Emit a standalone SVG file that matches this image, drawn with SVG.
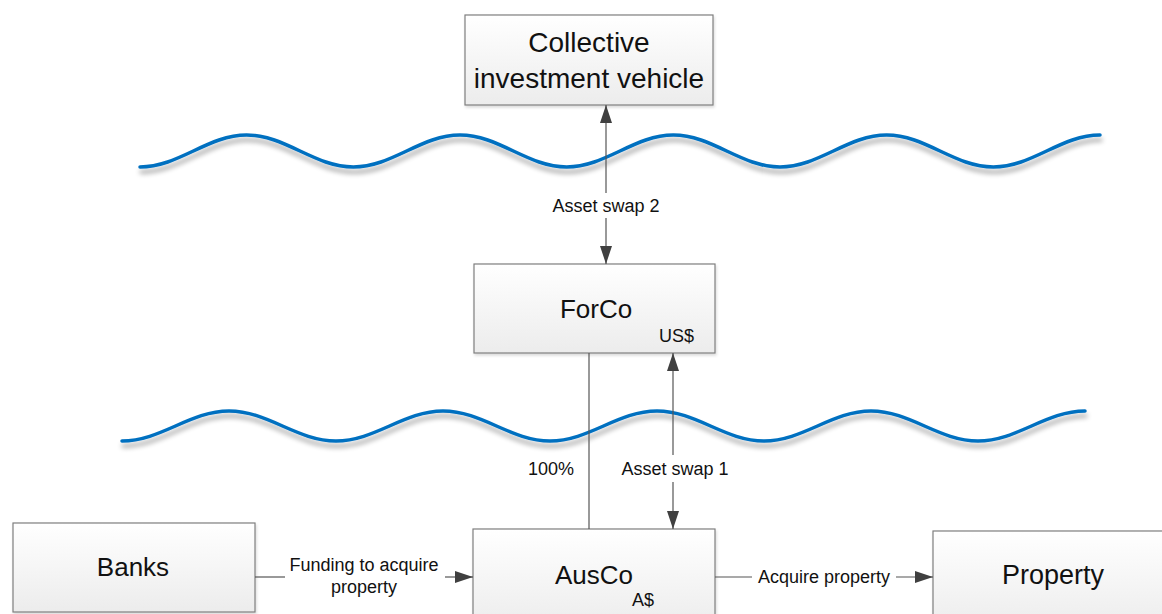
<svg xmlns="http://www.w3.org/2000/svg" width="1162" height="614" viewBox="0 0 1162 614">
<defs>
<linearGradient id="boxfill" x1="0" y1="0" x2="0" y2="1">
<stop offset="0" stop-color="#ffffff"/>
<stop offset="1" stop-color="#ececec"/>
</linearGradient>
<filter id="waveshadow" x="-5%" y="-50%" width="110%" height="250%">
<feGaussianBlur in="SourceAlpha" stdDeviation="2.5"/>
<feOffset dx="1" dy="5" result="b"/>
<feComponentTransfer><feFuncA type="linear" slope="0.35"/></feComponentTransfer>
<feMerge><feMergeNode/><feMergeNode in="SourceGraphic"/></feMerge>
</filter>
<filter id="boxshadow" x="-5%" y="-5%" width="115%" height="120%">
<feGaussianBlur in="SourceAlpha" stdDeviation="1.5"/>
<feOffset dx="1" dy="2"/>
<feComponentTransfer><feFuncA type="linear" slope="0.15"/></feComponentTransfer>
<feMerge><feMergeNode/><feMergeNode in="SourceGraphic"/></feMerge>
</filter>
<marker id="arr" viewBox="0 0 18 12" refX="18" refY="6" markerWidth="18" markerHeight="12" markerUnits="userSpaceOnUse" orient="auto-start-reverse">
<path d="M0,0 L18,6 L0,12 Z" fill="#404040"/>
</marker>
</defs>
<style>
.box{fill:url(#boxfill);stroke:#7f7f7f;stroke-width:1.2;filter:url(#boxshadow)}
.big{font-family:"Liberation Sans",Arial,sans-serif;font-size:26px;fill:#111;text-anchor:middle}
.small{font-family:"Liberation Sans",Arial,sans-serif;font-size:18px;fill:#111;text-anchor:middle}
.cur{font-family:"Liberation Sans",Arial,sans-serif;font-size:18px;fill:#111}
.conn{stroke:#555;stroke-width:1.2;fill:none}
.wave{stroke:#0070C0;stroke-width:3.5;fill:none;stroke-linecap:round;filter:url(#waveshadow)}
</style>

<g id="waves">
<path class="wave" d="M140,167 C178.85,167 207.82,135 246.67,135 S314.48,167 353.33,167 S421.15,135 460,135 S527.82,167 566.67,167 S634.48,135 673.33,135 S741.15,167 780,167 S847.82,135 886.67,135 S954.48,167 993.33,167 S1061.15,135 1100,135"/>
<path class="wave" d="M122,441 C160.97,441 190.03,411 229,411 S297.03,441 336,441 S404.03,411 443,411 S511.03,441 550,441 S618.03,411 657,411 S725.03,441 764,441 S832.03,411 871,411 S939.03,441 978,441 S1046.03,411 1085,411"/>
</g>

<g id="civ">
<rect class="box" x="465" y="15" width="248" height="90"/>
<text class="big" x="589" y="52" style="font-size:28px">Collective</text>
<text class="big" x="589" y="88" style="font-size:28px">investment vehicle</text>
</g>

<g id="forco">
<rect class="box" x="474" y="264" width="241" height="89"/>
<text class="big" x="596" y="318">ForCo</text>
<text class="cur" x="659" y="342">US$</text>
</g>

<g id="banks">
<rect class="box" x="13" y="523" width="242" height="89"/>
<text class="big" x="133" y="576">Banks</text>
</g>

<g id="ausco">
<rect class="box" x="473" y="529" width="242" height="100"/>
<text class="big" x="594" y="584">AusCo</text>
<text class="cur" x="632" y="606">A$</text>
</g>

<g id="property">
<rect class="box" x="933" y="531" width="250" height="100"/>
<text class="big" x="1053" y="584" style="font-size:27px">Property</text>
</g>

<g id="connectors">
<line class="conn" x1="606" y1="193" x2="606" y2="105" marker-end="url(#arr)"/>
<line class="conn" x1="606" y1="218" x2="606" y2="264" marker-end="url(#arr)"/>
<text class="small" x="606" y="212">Asset swap 2</text>

<line class="conn" x1="589" y1="353" x2="589" y2="529"/>
<text class="small" x="551" y="475">100%</text>

<line class="conn" x1="673" y1="455" x2="673" y2="353" marker-end="url(#arr)"/>
<line class="conn" x1="673" y1="482" x2="673" y2="529" marker-end="url(#arr)"/>
<text class="small" x="675" y="475">Asset swap 1</text>

<line class="conn" x1="255" y1="577" x2="285" y2="577"/>
<line class="conn" x1="445" y1="577" x2="473" y2="577" marker-end="url(#arr)"/>
<text class="small" x="364" y="571">Funding to acquire</text>
<text class="small" x="364" y="593">property</text>

<line class="conn" x1="715" y1="577" x2="752" y2="577"/>
<line class="conn" x1="896" y1="577" x2="933" y2="577" marker-end="url(#arr)"/>
<text class="small" x="824" y="583">Acquire property</text>
</g>
</svg>
